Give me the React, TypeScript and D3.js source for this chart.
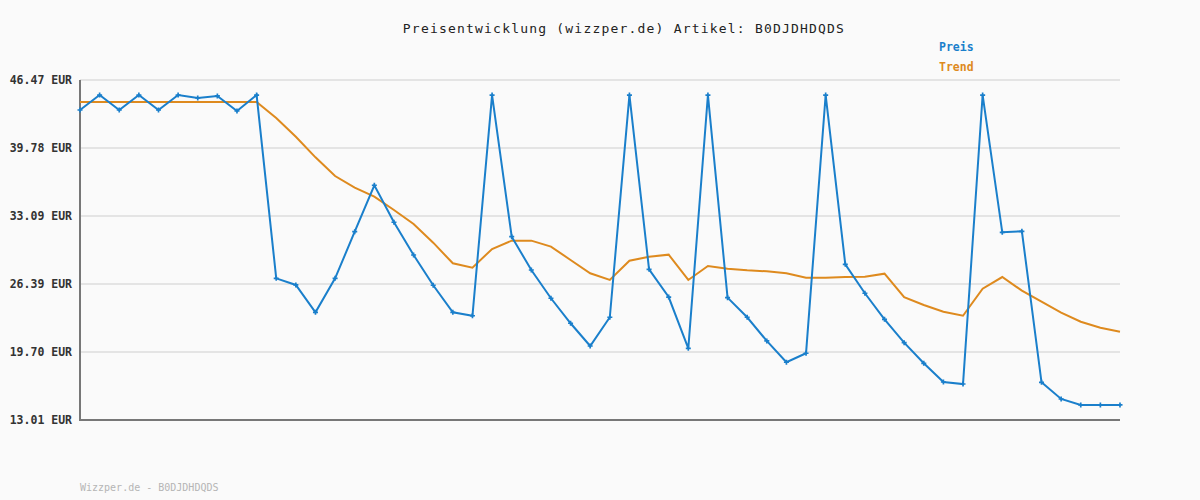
import React, { useEffect, useRef } from "react";
import * as d3 from "d3";

const title = "Preisentwicklung (wizzper.de) Artikel: B0DJDHDQDS";
const footer = "Wizzper.de - B0DJDHDQDS";
const yTicks = [13.01, 19.7, 26.39, 33.09, 39.78, 46.47];
const preis = [
  43.52, 44.99, 43.52, 44.99, 43.52, 44.99, 44.7, 44.9, 43.42, 44.99,
  26.95, 26.3, 23.61, 26.95, 31.54, 36.11, 32.47, 29.25, 26.27, 23.61,
  23.27, 44.99, 31.05, 27.77, 24.99, 22.53, 20.29, 23.12, 44.99, 27.84,
  25.11, 20.06, 44.99, 25.05, 23.12, 20.79, 18.69, 19.58, 44.99, 28.33,
  25.48, 22.92, 20.62, 18.59, 16.75, 16.55, 44.99, 31.48, 31.58, 16.72,
  15.08, 14.49, 14.49, 14.49,
];
const trend = [
  44.3, 44.3, 44.3, 44.3, 44.3, 44.3, 44.3, 44.3, 44.3, 44.3,
  42.73, 40.89, 38.86, 37.02, 35.87, 34.99, 33.68, 32.3, 30.46, 28.43,
  28.0, 29.84, 30.66, 30.66, 30.07, 28.76, 27.45, 26.79, 28.69, 29.08,
  29.28, 26.79, 28.17, 27.9, 27.74, 27.64, 27.45, 27.01, 27.01, 27.08,
  27.11, 27.41, 25.09, 24.33, 23.67, 23.27, 25.93, 27.08, 25.74, 24.65,
  23.57, 22.68, 22.09, 21.7,
];

const W = 1200;
const H = 500;
const left = 80;
const right = 1120;
const top = 80;
const bottom = 420;
const BLUE = "#1a7fcb";
const ORANGE = "#de8a1e";
const MONO = "'DejaVu Sans Mono', monospace";

export default function App() {
  const ref = useRef<SVGSVGElement>(null);
  useEffect(() => {
    const svg = d3.select(ref.current);
    svg.selectAll("*").remove();
    const x = d3.scaleLinear().domain([0, preis.length - 1]).range([left, right]);
    const y = d3.scaleLinear().domain([13.01, 46.47]).range([bottom, top]);

    svg.append("rect").attr("width", W).attr("height", H).attr("fill", "#fafafa");

    svg
      .append("g")
      .selectAll("line")
      .data(yTicks.slice(1))
      .join("line")
      .attr("x1", left)
      .attr("x2", right)
      .attr("y1", (d) => y(d))
      .attr("y2", (d) => y(d))
      .attr("stroke", "#e4e4e4")
      .attr("stroke-width", 2);

    svg
      .append("g")
      .selectAll("text")
      .data(yTicks)
      .join("text")
      .attr("x", 72)
      .attr("y", (d) => y(d) + 4)
      .attr("text-anchor", "end")
      .attr("font-family", MONO)
      .attr("font-weight", "bold")
      .attr("font-size", 11.5)
      .attr("fill", "#333")
      .text((d) => d.toFixed(2) + " EUR");

    svg.append("line").attr("x1", left).attr("x2", left).attr("y1", top).attr("y2", bottom + 1)
      .attr("stroke", "#777").attr("stroke-width", 2);
    svg.append("line").attr("x1", left).attr("x2", right).attr("y1", bottom).attr("y2", bottom)
      .attr("stroke", "#777").attr("stroke-width", 2);

    const line = d3
      .line<number>()
      .x((_, i) => x(i))
      .y((d) => y(d));

    svg.append("path").datum(trend).attr("d", line).attr("fill", "none")
      .attr("stroke", ORANGE).attr("stroke-width", 2);
    svg.append("path").datum(preis).attr("d", line).attr("fill", "none")
      .attr("stroke", BLUE).attr("stroke-width", 2);

    const sym = d3.symbol().type(d3.symbolCross).size(14);
    svg
      .append("g")
      .selectAll("path")
      .data(preis)
      .join("path")
      .attr("d", sym)
      .attr("transform", (d, i) => `translate(${x(i)},${y(d)})`)
      .attr("fill", BLUE);

    svg.append("text").attr("x", 624).attr("y", 33).attr("text-anchor", "middle")
      .attr("font-family", MONO).attr("font-size", 13).attr("letter-spacing", 1.2)
      .attr("fill", "#222").text(title);

    svg.append("text").attr("x", 939).attr("y", 51).attr("font-family", MONO)
      .attr("font-weight", "bold").attr("font-size", 11.5).attr("fill", BLUE).text("Preis");
    svg.append("text").attr("x", 939).attr("y", 71).attr("font-family", MONO)
      .attr("font-weight", "bold").attr("font-size", 11.5).attr("fill", ORANGE).text("Trend");

    svg.append("text").attr("x", 80).attr("y", 491).attr("font-family", MONO)
      .attr("font-size", 10).attr("fill", "#b5b5b5").text(footer);
  }, []);
  return (
    <svg
      ref={ref}
      width={W}
      height={H}
      style={{ position: "absolute", left: 0, top: 0, display: "block" }}
    />
  );
}
